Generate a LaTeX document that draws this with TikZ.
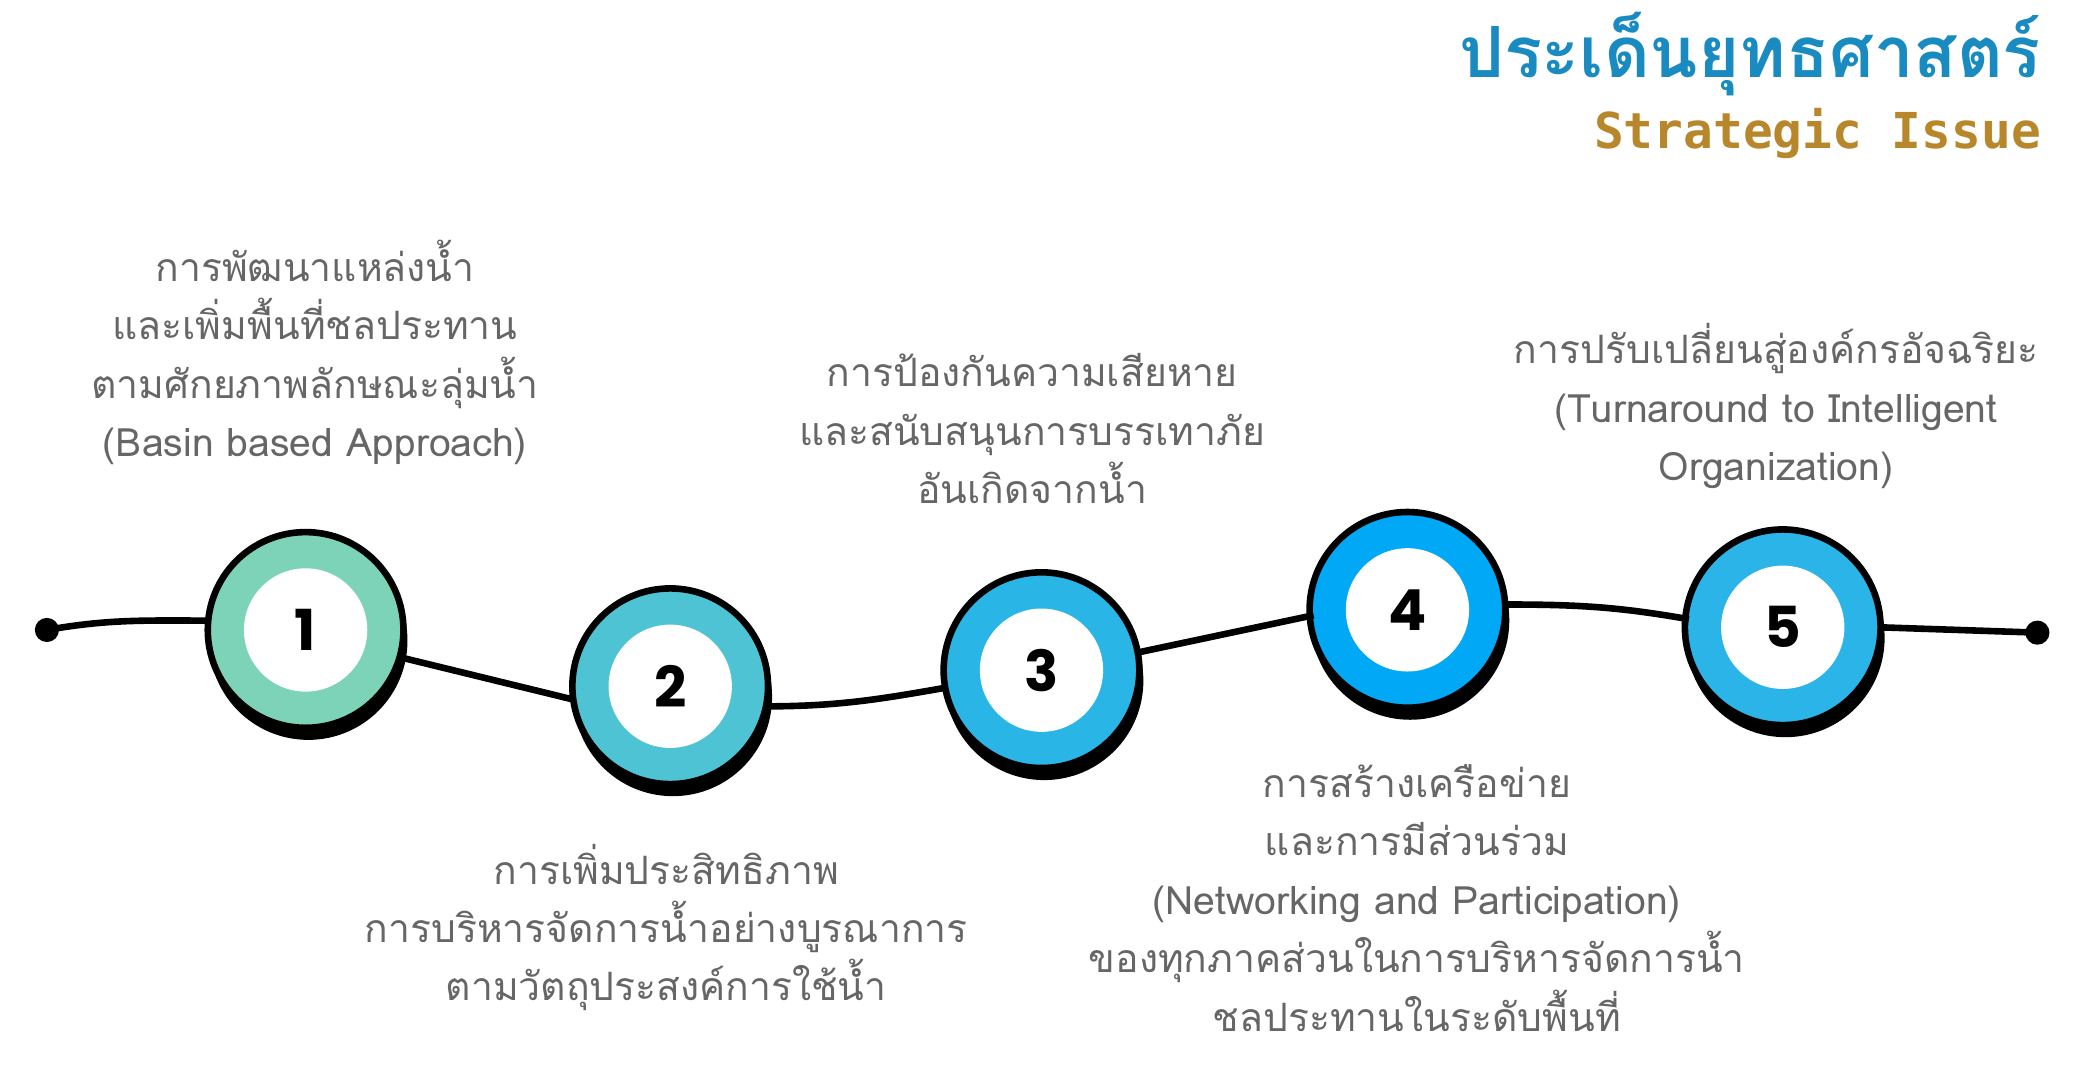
\documentclass[tikz,border=0pt]{standalone}
\usepackage{fontspec}
\setmainfont{Loma}[Script=Thai]
\newfontfamily\numfont{Poppins}
\newfontfamily\titfont{Loma}[Script=Thai]
\newfontfamily\monof{DejaVu Sans Mono}
\definecolor{tblue}{HTML}{1A8BC0}\definecolor{tgold}{HTML}{B8862B}
\begin{document}
\begin{tikzpicture}[
  lbl/.style={text=black!60, font=\fontsize{8.3}{12.4}\selectfont, align=center},
  num/.style={font=\numfont\bfseries\fontsize{12}{14}\selectfont},
  line/.style={line width=1.4pt}
]
\useasboundingbox (0,0) rectangle (15.6,7.95);
\definecolor{c1}{HTML}{7DD3B8}\definecolor{c2}{HTML}{4EC3D4}
\definecolor{c3}{HTML}{29B6E6}\definecolor{c4}{HTML}{00A8F5}\definecolor{c5}{HTML}{2BB4E8}
\coordinate (s) at (0.35,3.25);
\coordinate (e) at (15.2,3.23);
\fill (s) circle (0.09); \fill (e) circle (0.09);
\foreach \i/\x/\y in {1/2.28/3.25,2/5.0/2.83,3/7.77/2.95,4/10.5/3.40,5/13.3/3.27}{
  \fill[black] (\x+0.02,\y-0.08) circle (0.74);
  \fill[white] (\x+0.01,\y-0.04) circle (0.70);
  \draw[line width=1.4pt, fill=c\i] (\x,\y) circle (0.73);
  \node[circle, fill=white, minimum size=0.92cm, inner sep=0, num] (n\i) at (\x,\y) {\i};
  \coordinate (o\i) at (\x,\y);
}
\draw[line] (s) to[out=10,in=180] (1.55,3.32);
\draw[line] (2.97,3.05) -- (4.28,2.73);
\draw[line] (5.7,2.68) to[out=0,in=190] (7.06,2.82);
\draw[line] (8.48,3.08) -- (9.8,3.36);
\draw[line] (11.22,3.44) to[out=0,in=170] (12.6,3.33);
\draw[line] (14.02,3.27) -- (e);
\node[lbl] (t1) at (2.35,5.32) {การพัฒนาแหล่งน้ำ\\และเพิ่มพื้นที่ชลประทาน\\ตามศักยภาพลักษณะลุ่มน้ำ\\(Basin based Approach)};
\node[lbl] (t2) at (4.97,1.03) {การเพิ่มประสิทธิภาพ\\การบริหารจัดการน้ำอย่างบูรณาการ\\ตามวัตถุประสงค์การใช้น้ำ};
\node[lbl] (t3) at (7.7,4.75) {การป้องกันความเสียหาย\\และสนับสนุนการบรรเทาภัย\\อันเกิดจากน้ำ};
\node[lbl] (t4) at (10.57,1.25) {การสร้างเครือข่าย\\และการมีส่วนร่วม\\(Networking and Participation)\\ของทุกภาคส่วนในการบริหารจัดการน้ำ\\ชลประทานในระดับพื้นที่};
\node[lbl] (t5) at (13.25,4.92) {การปรับเปลี่ยนสู่องค์กรอัจฉริยะ\\(Turnaround to Intelligent\\Organization)};
\node[anchor=east, text=tblue, font=\titfont\bfseries\fontsize{15}{16}\selectfont] (ti) at (15.35,7.55) {ประเด็นยุทธศาสตร์};
\node[anchor=east, text=tgold, font=\monof\bfseries\fontsize{10.5}{12}\selectfont] (st) at (15.35,6.95) {Strategic Issue};
\end{tikzpicture}
\end{document}
